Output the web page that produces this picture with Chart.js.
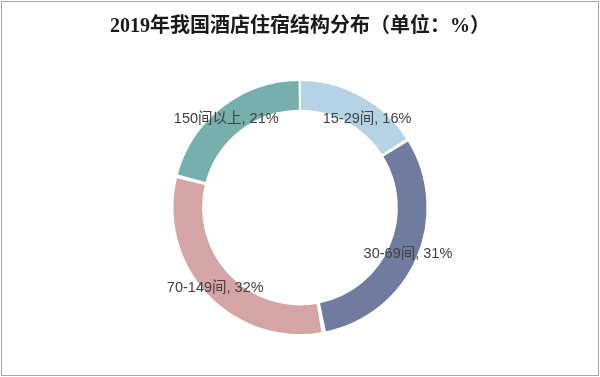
<!DOCTYPE html>
<html>
<head>
<meta charset="utf-8">
<script src="https://cdn.jsdelivr.net/npm/chart.js@4/dist/chart.umd.min.js"></script>
<style>
  html, body { margin: 0; padding: 0; background: #fff; }
  #wrap { position: relative; width: 600px; height: 377px; }
</style>
</head>
<body>
<div id="wrap"><canvas id="hotelChart" width="600" height="377"></canvas></div>
<script>
// Chart data
const categories = ["15-29间", "30-69间", "70-149间", "150间以上"];
const shares = [16, 31, 32, 21];
const sliceColors = ["#b5d3e5", "#6f7b9f", "#d4a5a4", "#76afac"];

// small nudges for the labels (px), label sits on the ring otherwise
const labelNudge = [[13, 10], [5, 2], [-3, 4], [-5, 0]];

// draws "category, value%" on each slice + the thin frame
const sliceLabels = {
  id: "sliceLabels",
  afterDatasetsDraw(chart) {
    const ctx = chart.ctx;
    const meta = chart.getDatasetMeta(0);
    ctx.save();
    ctx.font = "14.5px 'Liberation Sans', Arial, 'Noto Sans CJK SC'";
    ctx.fillStyle = "#404040";
    ctx.textAlign = "center";
    ctx.textBaseline = "middle";
    meta.data.forEach(function (arc, i) {
      const p = arc.tooltipPosition();
      ctx.fillText(categories[i] + ", " + shares[i] + "%", p.x + labelNudge[i][0], p.y + labelNudge[i][1]);
    });
    ctx.restore();
  },
  afterDraw(chart) {
    const ctx = chart.ctx;
    ctx.save();
    ctx.strokeStyle = "#a6a6a6";
    ctx.lineWidth = 1;
    ctx.strokeRect(1.5, 1.5, chart.width - 3, chart.height - 3);
    ctx.restore();
  },
};

document.addEventListener("DOMContentLoaded", function () {
  const ctx = document.getElementById("hotelChart").getContext("2d");

  new Chart(ctx, {
    type: "doughnut",
    data: {
      labels: categories,
      datasets: [
        {
          data: shares,
          backgroundColor: sliceColors,
          borderWidth: 0,
          spacing: 4,
          cutout: "77%",
        },
      ],
    },
    options: {
      responsive: false,
      animation: false,
      layout: {
        padding: { top: 0, bottom: 43 },
      },
      plugins: {
        legend: { display: false },
        tooltip: { enabled: false },
        title: {
          display: true,
          text: "2019年我国酒店住宿结构分布（单位：%）",
          color: "#1a1a1a",
          font: { family: "'Liberation Serif', 'Noto Sans CJK SC'", size: 20, weight: "bold", lineHeight: 1.2 },
          padding: { top: 15, bottom: 42 },
        },
      },
    },
    plugins: [sliceLabels],
  });
});
</script>
</body>
</html>
